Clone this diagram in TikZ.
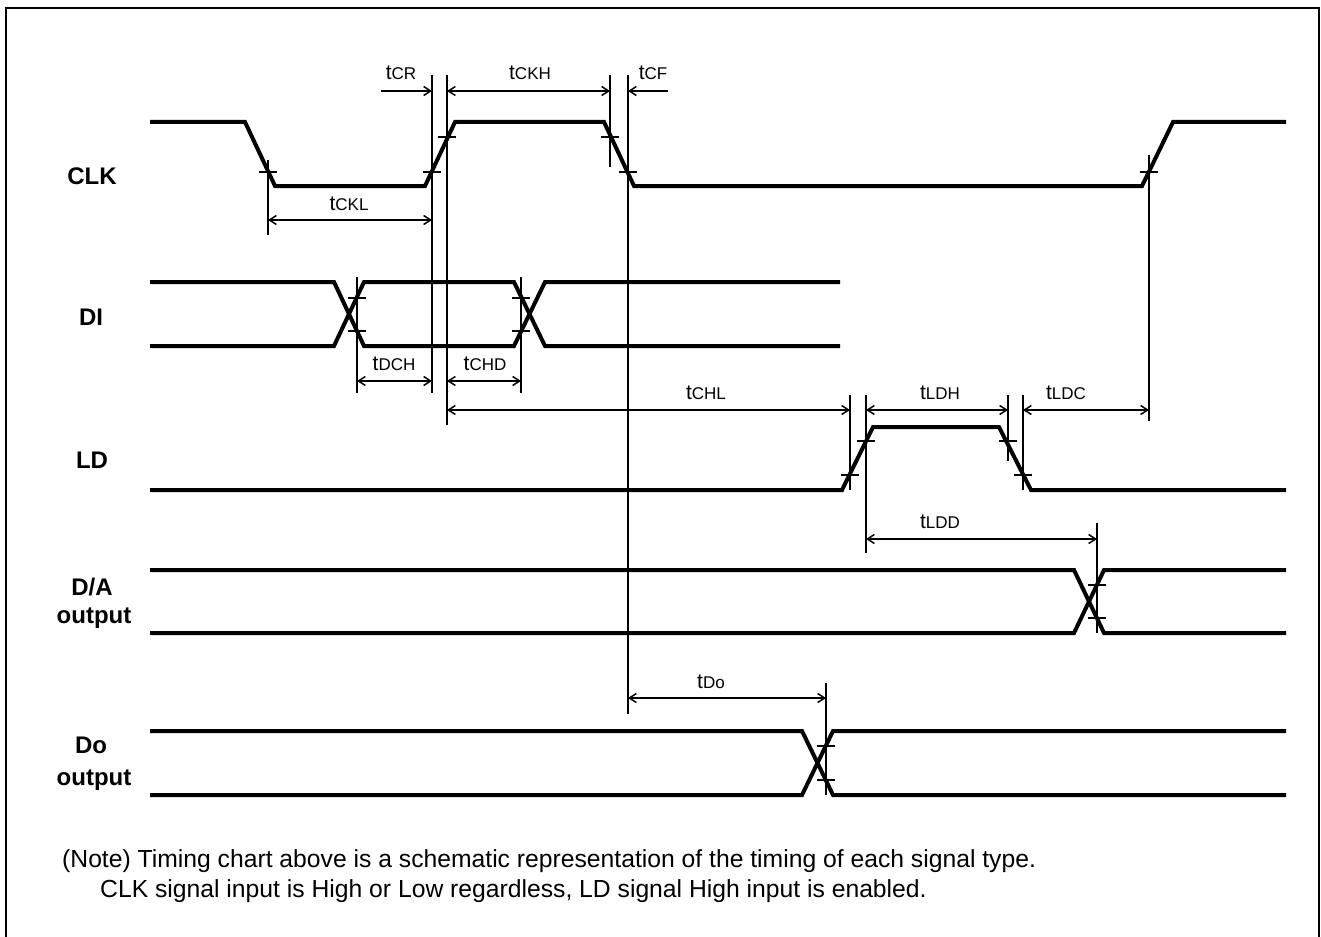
\documentclass[tikz,border=0pt]{standalone}
\usepackage{fontspec}
\setmainfont{Liberation Sans}
\usetikzlibrary{arrows.meta}
\newcommand{\tlab}[1]{{\fontsize{21}{21}\selectfont t}{\fontsize{17}{17}\selectfont #1}}
\begin{document}
\begin{tikzpicture}[x=1pt,y=-1pt,
  sig/.style={line width=4pt},
  dimline/.style={line width=1.5pt},
  tick/.style={line width=1.5pt},
  both/.style={line width=1.5pt,{Straight Barb[length=7pt,width=9pt]}-{Straight Barb[length=7pt,width=9pt]}},
  toright/.style={line width=1.5pt,-{Straight Barb[length=7pt,width=9pt]}},
  signame/.style={font=\fontsize{24}{24}\selectfont\bfseries,anchor=base,inner sep=0pt},
  tl/.style={anchor=base,inner sep=0pt},
  note/.style={font=\fontsize{24.7}{24.7}\selectfont,anchor=base west,inner sep=0pt}]
\useasboundingbox (0,0) rectangle (1321,936);
\fill[white] (0,0) rectangle (1321,936);
% frame
\draw[line width=2pt] (6,940) -- (6,8) -- (1319,8) -- (1319,940);

% signal names
\node[signame] (nclk) at (92,184) {CLK};
\node[signame] (ndi) at (91,325) {DI};
\node[signame] (nld) at (92,468) {LD};
\node[signame] (nda) at (92,595) {D/A};
\node[signame] (ndao) at (94,623) {output};
\node[signame] (ndo) at (91,753) {Do};
\node[signame] (ndoo) at (94,785) {output};

% CLK
\draw[sig] (150,122) -- (245,122) -- (275,186) -- (425,186) -- (455,122) -- (604,122) -- (634,186) -- (1142,186) -- (1173,122) -- (1286,122);
% DI
\draw[sig] (150,282) -- (334,282) -- (364,346) -- (514,346) -- (545,282) -- (840,282);
\draw[sig] (150,346) -- (334,346) -- (364,282) -- (514,282) -- (545,346) -- (840,346);
% LD
\draw[sig] (150,490) -- (842,490) -- (873,427) -- (999,427) -- (1031,490) -- (1286,490);
% D/A
\draw[sig] (150,570) -- (1074,570) -- (1104,633) -- (1286,633);
\draw[sig] (150,633) -- (1074,633) -- (1104,570) -- (1286,570);
% Do
\draw[sig] (150,731) -- (802,731) -- (833,795) -- (1286,795);
\draw[sig] (150,795) -- (802,795) -- (833,731) -- (1286,731);

% vertical reference lines
\draw[dimline] (268,160) -- (268,235);
\draw[dimline] (432,75) -- (432,393);
\draw[dimline] (447,75) -- (447,425);
\draw[dimline] (610,75) -- (610,167);
\draw[dimline] (628,75) -- (628,714);
\draw[dimline] (1149,155) -- (1149,421);
\draw[dimline] (357,277) -- (357,393);
\draw[dimline] (521,277) -- (521,393);
\draw[dimline] (850,395) -- (850,490);
\draw[dimline] (866,395) -- (866,553);
\draw[dimline] (1008,395) -- (1008,461);
\draw[dimline] (1023,395) -- (1023,490);
\draw[dimline] (1097,523) -- (1097,633);
\draw[dimline] (826,683) -- (826,795);

% ticks
\foreach \x/\y in {268/172,432/172,447/137,610/137,628/172,1149/172,
                   357/298,357/331,521/298,521/331,
                   850/475,866/441,1008/441,1023/475,
                   1097/585,1097/618,826/746,826/780}
  \draw[tick] (\x-9,\y) -- (\x+9,\y);

% dimension arrows
\draw[toright] (381,91) -- (432,91);
\draw[both] (447,91) -- (610,91);
\draw[toright] (668,91) -- (628,91);
\draw[both] (268,220) -- (432,220);
\draw[both] (357,381) -- (432,381);
\draw[both] (447,381) -- (521,381);
\draw[both] (447,410) -- (850,410);
\draw[both] (866,410) -- (1008,410);
\draw[both] (1023,410) -- (1149,410);
\draw[both] (866,539) -- (1097,539);
\draw[both] (628,698) -- (826,698);

% timing labels
\node[tl] (lcr) at (401,80) {\tlab{CR}};
\node[tl] (lckh) at (530,80) {\tlab{CKH}};
\node[tl] (lcf) at (653,80) {\tlab{CF}};
\node[tl] (lckl) at (349,210) {\tlab{CKL}};
\node[tl] (ldch) at (394,370) {\tlab{DCH}};
\node[tl] (lchd) at (485,370) {\tlab{CHD}};
\node[tl] (lchl) at (706,399) {\tlab{CHL}};
\node[tl] (lldh) at (940,399) {\tlab{LDH}};
\node[tl] (lldc) at (1066,399) {\tlab{LDC}};
\node[tl] (lldd) at (940,528) {\tlab{LDD}};
\node[tl] (ldo) at (711,688) {\tlab{Do}};

% note
\node[note] (note1) at (62,867) {(Note) Timing chart above is a schematic representation of the timing of each signal type.};
\node[note] (note2) at (100,897) {CLK signal input is High or Low regardless, LD signal High input is enabled.};
\end{tikzpicture}
\end{document}
